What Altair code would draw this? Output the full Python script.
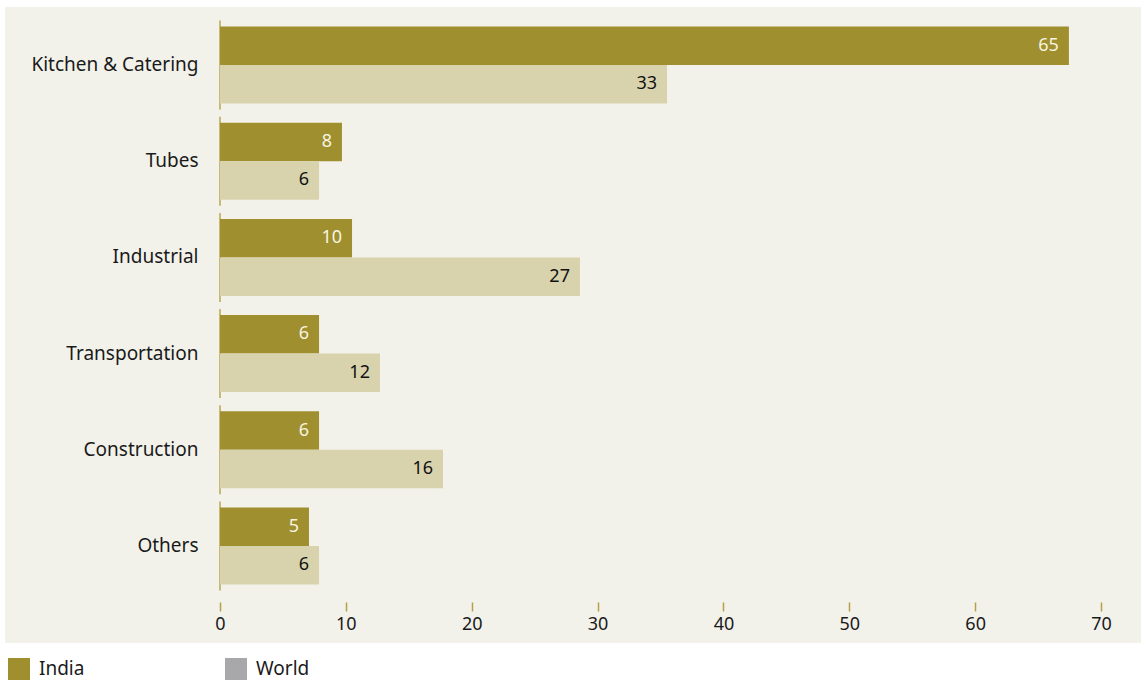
import altair as alt
import pandas as pd

categories = ["Kitchen & Catering", "Tubes", "Industrial", "Transportation", "Construction", "Others"]
series = ["India", "World"]
# bar lengths as drawn
india_len = [67.45, 9.69, 10.49, 7.87, 7.87, 7.07]
world_len = [35.52, 7.87, 28.6, 12.71, 17.72, 7.87]
# printed labels
india_lbl = [65, 8, 10, 6, 6, 5]
world_lbl = [33, 6, 27, 12, 16, 6]
x_ticks = [0, 10, 20, 30, 40, 50, 60, 70]

OLIVE = "#9f8f2e"
BEIGE = "#d8d3ac"
GRAY = "#a8a8ab"
BG = "#f3f2ea"
FONT = "Noto Sans"

rows = []
for i, c in enumerate(categories):
    rows.append({"category": c, "series": "India", "value": india_len[i], "label": str(india_lbl[i])})
    rows.append({"category": c, "series": "World", "value": world_len[i], "label": str(world_lbl[i])})
df = pd.DataFrame(rows)
cat_df = pd.DataFrame({"category": categories})

W, H = 881, 577

yenc = alt.Y("category:N", sort=categories,
             scale=alt.Scale(paddingInner=0.2, paddingOuter=0.1),
             axis=alt.Axis(title=None, domain=False, ticks=False, labelPadding=22, zindex=1,
                           labelFontSize=19, labelColor="#1a1a1a", labelFont=FONT))
xenc = alt.X("value:Q", scale=alt.Scale(domain=[0, 70], nice=False),
             axis=alt.Axis(title=None, domain=False, grid=False, values=x_ticks, zindex=1,
                           tickColor="#b3a248", tickSize=9, tickWidth=1.5, offset=8,
                           labelFontSize=18, labelColor="#1a1a1a", labelFont=FONT,
                           labelPadding=4, labelFlush=False))
yoff = alt.YOffset("series:N", sort=series, scale=alt.Scale(paddingInner=0, paddingOuter=0))

bg = alt.Chart(cat_df).mark_rect(color=BG).encode(
    x=alt.value(-215), x2=alt.value(921), y=alt.value(-10), y2=alt.value(626)
).transform_filter(alt.datum.category == categories[0])

bars = alt.Chart(df).mark_bar().encode(
    x=xenc, y=yenc, yOffset=yoff,
    color=alt.condition(alt.datum.series == "India", alt.value(OLIVE), alt.value(BEIGE)),
)

labels = alt.Chart(df).mark_text(align="right", baseline="middle", dx=-10, fontSize=18, font=FONT).encode(
    x="value:Q", y=alt.Y("category:N", sort=categories), yOffset=yoff, text="label:N",
    color=alt.condition(alt.datum.series == "India", alt.value("#f7f4e0"), alt.value("#111111")),
)

vticks = alt.Chart(cat_df).mark_tick(orient="vertical", size=89, thickness=2, color="#b3a248").encode(
    x=alt.datum(0), y=alt.Y("category:N", sort=categories)
)

legend_layer = alt.Chart(df).mark_square(opacity=0).encode(
    x="value:Q", y=alt.Y("category:N", sort=categories),
    fill=alt.Fill("series:N", sort=series,
                  scale=alt.Scale(domain=series, range=[OLIVE, GRAY]),
                  legend=alt.Legend(title=None, orient="none", legendX=-212, legendY=641,
                                    direction="horizontal", symbolType="square", symbolSize=484,
                                    symbolOpacity=1, symbolStrokeWidth=0, labelFontSize=19,
                                    labelFont=FONT, labelColor="#1a1a1a", labelOffset=9,
                                    columnPadding=140)),
)

chart = alt.layer(bg, vticks, bars, labels, legend_layer).properties(
    width=W, height=H, padding={"left": 5, "top": 7, "right": 0, "bottom": 0},
    background="white"
).configure_view(stroke=None)

chart.save("out.html", embed_options={"renderer": "svg", "actions": False})
